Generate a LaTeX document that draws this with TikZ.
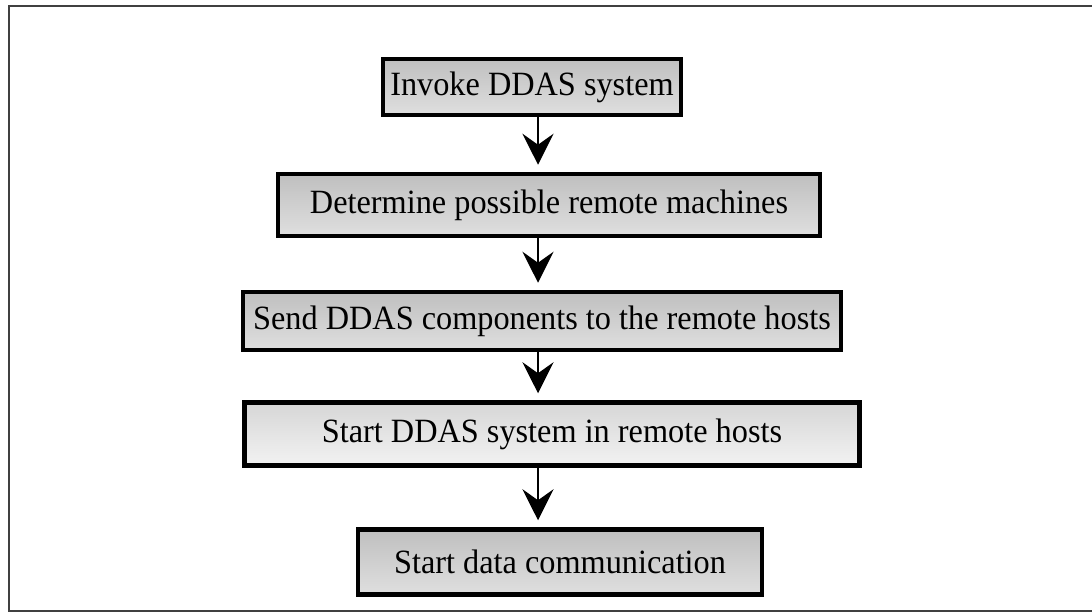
\documentclass[tikz,border=0pt]{standalone}
\usepackage{fontspec}
\setmainfont[FakeStretch=0.95]{Liberation Serif}
\usetikzlibrary{arrows.meta}
\begin{document}
\begin{tikzpicture}[x=1pt,y=-1pt,
  stepbox/.style={draw=black,line width=4.5pt,
    top color=gray!50,bottom color=gray!25,
    inner sep=0pt,anchor=center,
    font=\fontsize{34}{39}\selectfont},
  flow/.style={line width=1.4pt,
    -{Stealth[length=31pt,width=31pt,inset=11pt]},
    shorten >=7pt}]
  \useasboundingbox (0,0) rectangle (1092,615);
  % outer frame
  \draw[line width=2pt,black!75] (1092,6) -- (9,6) -- (9,611) -- (1092,611);
  % process steps
  \node[stepbox,minimum width=298pt,minimum height=56pt] (n1) at (532,87) {Invoke DDAS system};
  \node[stepbox,minimum width=542pt,minimum height=62pt] (n2) at (549,205) {Determine possible remote machines};
  \node[stepbox,minimum width=598pt,minimum height=58pt] (n3) at (542,321) {Send DDAS components to the remote hosts};
  \node[stepbox,minimum width=615pt,minimum height=63pt,top color=gray!32,bottom color=gray!10] (n4) at (552,434) {Start DDAS system in remote hosts};
  \node[stepbox,minimum width=404pt,minimum height=65pt] (n5) at (560,562) {Start data communication};
  % vertical axis of the arrows
  \coordinate (ax) at (538,0);
  \draw[flow] (n1.south -| ax) -- (n2.north -| ax);
  \draw[flow] (n2.south -| ax) -- (n3.north -| ax);
  \draw[flow] (n3.south -| ax) -- (n4.north -| ax);
  \draw[flow] (n4.south -| ax) -- (n5.north -| ax);
\end{tikzpicture}
\end{document}
